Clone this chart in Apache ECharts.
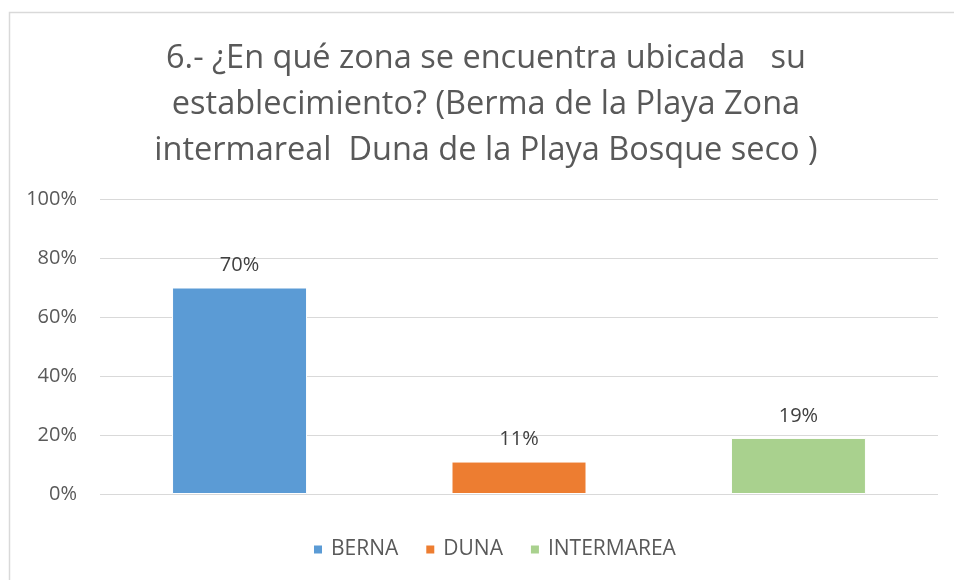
<!DOCTYPE html>
<html>
<head>
<meta charset="utf-8">
<script src="https://cdn.jsdelivr.net/npm/echarts@6/dist/echarts.min.js"></script>
<style>
  html, body { margin: 0; padding: 0; background: #fff; }
  #chart { width: 954px; height: 580px; }
</style>
</head>
<body>
<div id="chart"></div>
<script>
// datos de la gráfica
var titulo = "6.- ¿En qué zona se encuentra ubicada   su\nestablecimiento? (Berma de la Playa Zona\nintermareal  Duna de la Playa Bosque seco )";
var zonas = ["BERNA", "DUNA", "INTERMAREA"];
var porcentajes = [0.70, 0.11, 0.19];
var colores = ["#5b9bd5", "#ed7d31", "#a9d18e"];
var ticks = [0, 0.2, 0.4, 0.6, 0.8, 1];

;(function () {
  var myChart = echarts.init(document.getElementById("chart"));
  var fuente = "'Open Sans', sans-serif";

  // una serie por zona, como en Excel
  var series = zonas.map(function (z, i) {
    return {
      name: z,
      type: "bar",
      data: [porcentajes[i]],
      barWidth: 135,
      barGap: "107%",
      itemStyle: { color: colores[i], borderColor: "#fff", borderWidth: 1 },
      label: {
        show: true,
        position: "top",
        distance: 12,
        color: "#404040",
        fontSize: 20,
        fontFamily: fuente,
        formatter: function (p) { return Math.round(p.value * 100) + "%"; }
      }
    };
  });

  var option = {
    animation: false,
    color: colores,
    title: {
      text: titulo,
      left: 486,
      top: 36,
      padding: 0,
      textAlign: "center",
      textStyle: {
        color: "#595959",
        fontSize: 32.5,
        fontWeight: "normal",
        fontFamily: fuente,
        lineHeight: 46
      }
    },
    grid: { left: 100, right: 16, top: 199, bottom: 86, containLabel: false },
    xAxis: {
      type: "category",
      data: [""],
      axisLine: { show: false },
      axisTick: { show: false },
      axisLabel: { show: false }
    },
    yAxis: {
      type: "value",
      min: ticks[0],
      max: ticks[ticks.length - 1],
      interval: 0.2,
      axisLine: { show: false },
      axisTick: { show: false },
      axisLabel: {
        color: "#595959",
        fontSize: 20,
        fontFamily: fuente,
        margin: 23,
        formatter: function (v) { return Math.round(v * 100) + "%"; }
      },
      splitLine: { lineStyle: { color: "#d9d9d9", width: 1 } }
    },
    legend: {
      bottom: 20,
      left: 312,
      padding: 0,
      icon: "rect",
      itemWidth: 10,
      itemHeight: 10,
      itemGap: 26,
      textStyle: { color: "#595959", fontSize: 21, fontFamily: fuente, padding: [0, 0, 0, 3] }
    },
    graphic: [{
      type: "rect",
      left: 7,
      top: 10,
      shape: { width: 960, height: 580 },
      style: { fill: "none", stroke: "#d9d9d9", lineWidth: 1.5 },
      silent: true
    }],
    series: series
  };

  myChart.setOption(option);
  window.addEventListener("resize", function () {
    myChart.resize();
  });
})();
</script>
</body>
</html>
